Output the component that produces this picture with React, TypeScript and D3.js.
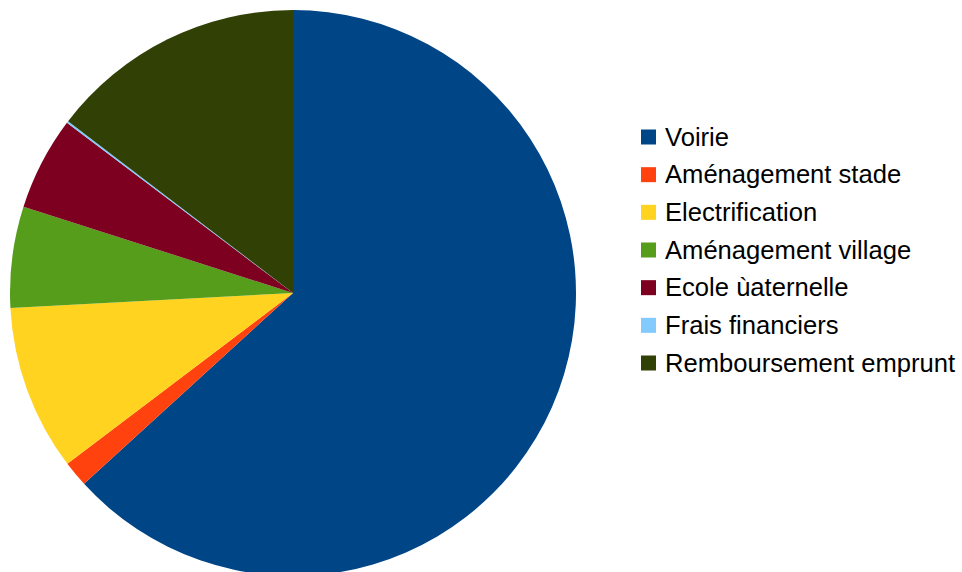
import React from "react";
import * as d3 from "d3";

const categories = [
  "Voirie",
  "Aménagement stade",
  "Electrification",
  "Aménagement village",
  "Ecole ùaternelle",
  "Frais financiers",
  "Remboursement emprunt",
];
const values = [63.22, 1.47, 9.46, 5.78, 5.34, 0.11, 14.62];
const colors = ["#004586", "#ff420e", "#ffd320", "#579d1c", "#7e0021", "#83caff", "#314004"];

const W = 962;
const H = 572;
const cx = 293;
const cy = 293;
const R = 283;

export default function App() {
  const pie = d3.pie<number>().sort(null).value((d) => d)(values);
  const arc = d3.arc<d3.PieArcDatum<number>>().innerRadius(0).outerRadius(R);
  const legendY = d3.scalePoint<string>().domain(categories).range([137, 363]);
  return (
    <svg
      width={W}
      height={H}
      style={{ position: "absolute", left: 0, top: 0, background: "#fff" }}
      fontFamily="Liberation Sans"
    >
      <g transform={`translate(${cx},${cy})`}>
        {pie.map((p, i) => (
          <path key={i} d={arc(p) || ""} fill={colors[i]} />
        ))}
      </g>
      <g>
        {categories.map((c, i) => {
          const y = legendY(c)!;
          return (
            <g key={c}>
              <rect x={641} y={y - 7.5} width={15} height={15} fill={colors[i]} />
              <text x={665} y={y + 8.7} fontSize={25.6} fill="#000">
                {c}
              </text>
            </g>
          );
        })}
      </g>
    </svg>
  );
}
